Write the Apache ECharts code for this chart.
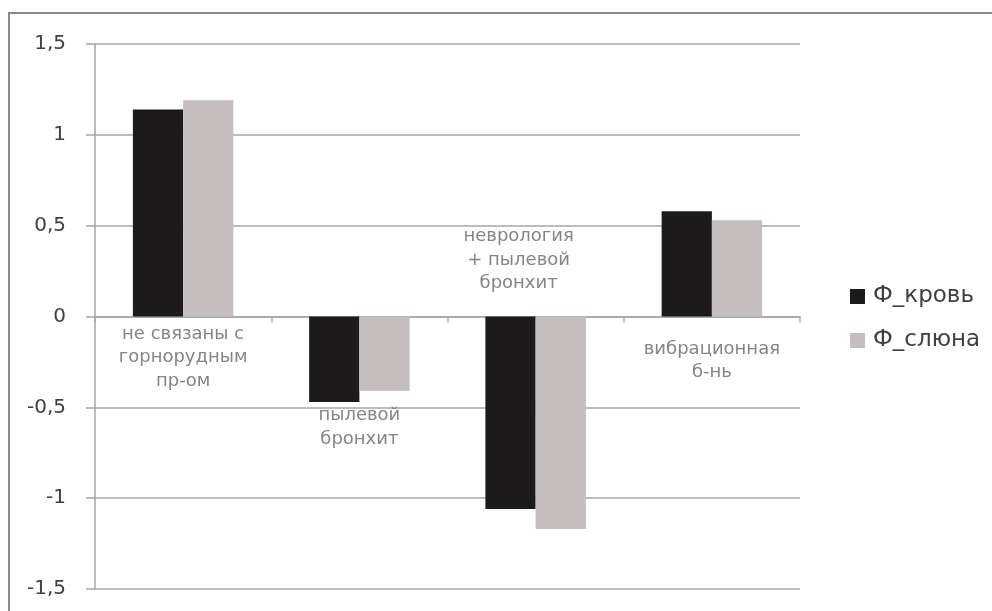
<!DOCTYPE html>
<html>
<head>
<meta charset="utf-8">
<script src="https://cdn.jsdelivr.net/npm/echarts@6/dist/echarts.min.js"></script>
<style>
html,body{margin:0;padding:0;background:#fff;}
#chart{width:992px;height:611px;}
</style>
</head>
<body>
<div id="chart"></div>
<script>
const categories = ['не связаны с\nгорнорудным\nпр-ом', 'пылевой\nбронхит', 'неврология\n+ пылевой\nбронхит', 'вибрационная\nб-нь'];
const seriesNames = ['Ф_кровь', 'Ф_слюна'];
const bloodValues = [1.14, -0.47, -1.06, 0.58];
const salivaValues = [1.19, -0.41, -1.17, 0.53];
const yMin = -1.5, yMax = 1.5, yStep = 0.5;

const chart = echarts.init(document.getElementById('chart'), null, {renderer: 'canvas'});
const gridColor = '#a6a6a6';
const option = {
  animation: false,
  backgroundColor: '#fff',
  grid: {left: 95, right: 192, top: 44, bottom: 22, containLabel: false},
  legend: {
    orient: 'vertical', left: 845, top: 280,
    itemWidth: 15, itemHeight: 15, itemGap: 21,
    icon: 'rect',
    textStyle: {fontFamily: 'DejaVu Sans', fontSize: 23, color: '#404040', padding: [0, 0, 0, 3]},
    data: seriesNames
  },
  xAxis: {
    type: 'category', data: categories,
    axisLine: {onZero: true, lineStyle: {color: gridColor, width: 1.5}},
    axisTick: {show: true, length: 6, lineStyle: {color: gridColor, width: 1.5}},
    axisLabel: {show: false},
    splitLine: {show: false}
  },
  yAxis: {
    type: 'value', min: yMin, max: yMax, interval: yStep,
    axisLine: {show: true, lineStyle: {color: gridColor, width: 1.5}},
    axisTick: {show: true, length: 9, lineStyle: {color: gridColor, width: 1.5}},
    axisLabel: {
      margin: 29, fontFamily: 'DejaVu Sans', fontSize: 20, color: '#404040',
      formatter: v => String(Math.round(v * 10) / 10).replace('.', ',')
    },
    splitLine: {show: true, lineStyle: {color: gridColor, width: 1.5}}
  },
  series: [
    {name: seriesNames[0], type: 'bar', data: bloodValues, barGap: '0%', barCategoryGap: '43%',
     itemStyle: {color: '#1c1a1b'}},
    {name: seriesNames[1], type: 'bar', data: salivaValues, barGap: '0%', barCategoryGap: '43%',
     itemStyle: {color: '#c6bebe'}}
  ]
};
chart.setOption(option);

// category label placement (style): anchor to zero line or to the lowest bar end
const labelStyle = [
  {anchor: 'zero', dx: 0, dy: 6, va: 'top'},
  {anchor: 'min', dx: 0, dy: 2, va: 'top'},
  {anchor: 'zero', dx: -17, dy: -21, va: 'bottom'},
  {anchor: 'zero', dx: 0, dy: 21, va: 'top'}
];
const graphics = [];
categories.forEach((c, i) => {
  const st = labelStyle[i];
  const v = st.anchor === 'zero' ? 0 : Math.min(bloodValues[i], salivaValues[i]);
  const p = chart.convertToPixel({gridIndex: 0}, [i, v]);
  graphics.push({
    type: 'text', x: p[0] + st.dx, y: p[1] + st.dy, z: 10,
    style: {text: c, align: 'center', verticalAlign: st.va, fill: '#858585',
      font: '18px "DejaVu Sans"', lineHeight: 23.5}
  });
});
// outer frame
graphics.push({type: 'polyline', shape: {points: [[9, 620], [9, 13], [1000, 13]]},
  style: {stroke: '#8a8a8a', lineWidth: 2, fill: null}, z: 0});
chart.setOption({graphic: graphics});
</script>
</body>
</html>
